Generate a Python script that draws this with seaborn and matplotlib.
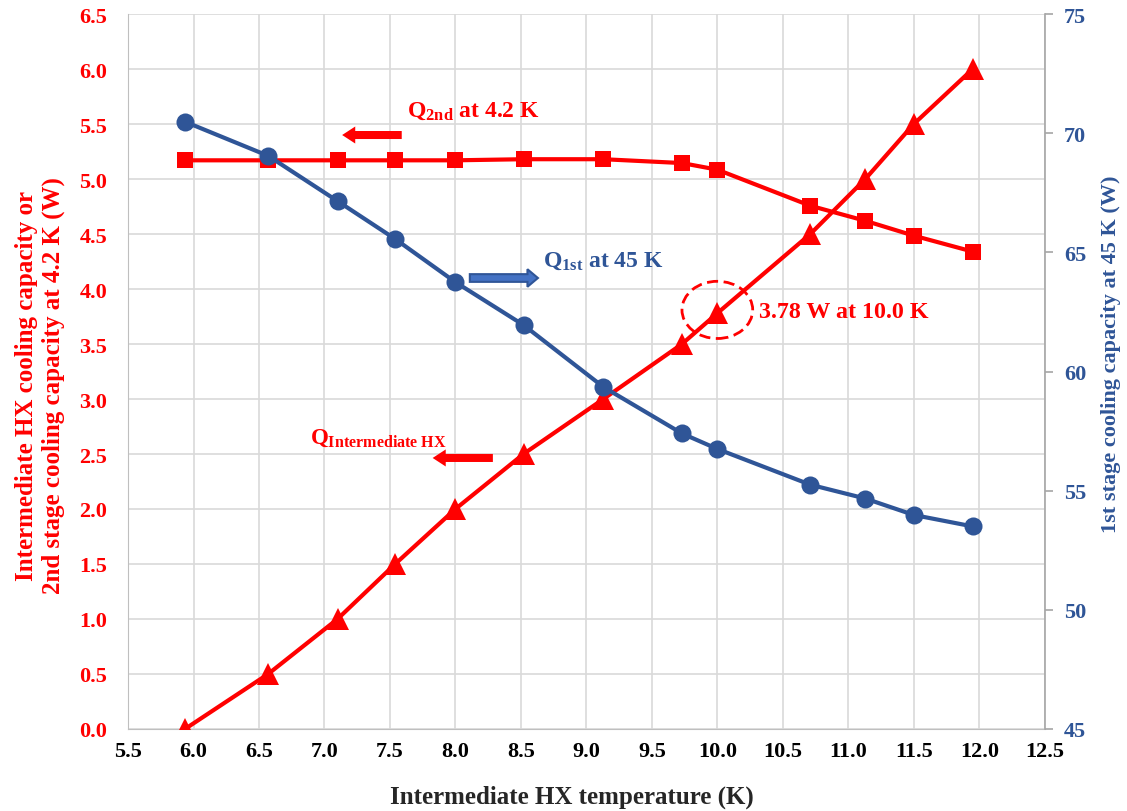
import matplotlib
matplotlib.use("Agg")
import matplotlib.pyplot as plt
import seaborn as sns
import pandas as pd
from matplotlib.patches import Ellipse, FancyArrow

# ---- data ----
temps = [5.935, 6.57, 7.10, 7.54, 8.0, 8.52, 9.13, 9.73, 10.0, 10.71, 11.13, 11.5, 11.95]
q_intermediate = [0.0, 0.5, 1.0, 1.5, 2.0, 2.5, 3.0, 3.5, 3.78, 4.5, 5.0, 5.5, 6.0]
q_2nd = [5.17, 5.17, 5.17, 5.17, 5.17, 5.18, 5.18, 5.145, 5.085, 4.757, 4.62, 4.485, 4.34]
q_1st = [70.48, 69.05, 67.15, 65.56, 63.75, 61.95, 59.35, 57.40, 56.75, 55.25, 54.67, 53.98, 53.5]

x_ticks = [5.5, 6.0, 6.5, 7.0, 7.5, 8.0, 8.5, 9.0, 9.5, 10.0, 10.5, 11.0, 11.5, 12.0, 12.5]
left_ticks = [0.0, 0.5, 1.0, 1.5, 2.0, 2.5, 3.0, 3.5, 4.0, 4.5, 5.0, 5.5, 6.0, 6.5]
right_ticks = [45, 50, 55, 60, 65, 70, 75]

df = pd.DataFrame({"T": temps, "qi": q_intermediate, "q2": q_2nd, "q1": q_1st})

sns.set_style("white")
plt.rcParams["font.family"] = ["Liberation Serif", "DejaVu Serif"]
plt.rcParams["mathtext.fontset"] = "custom"
plt.rcParams["mathtext.rm"] = "Liberation Serif"
plt.rcParams["mathtext.bf"] = "Liberation Serif:bold"
plt.rcParams["mathtext.it"] = "Liberation Serif:italic"

RED = "#FF0000"
BLUE = "#2F5597"
GRID = "#D9D9D9"

fig = plt.figure(figsize=(11.27, 8.12), dpi=100)
ax = fig.add_axes([0.1136, 0.101, 0.8134, 0.8805])
ax2 = ax.twinx()

sns.lineplot(data=df, x="T", y="qi", ax=ax, color=RED, lw=3, marker="^",
             markersize=16, markeredgewidth=0, zorder=3)
sns.lineplot(data=df, x="T", y="q2", ax=ax, color=RED, lw=3, marker="s",
             markersize=12, markeredgewidth=0, zorder=3)
sns.lineplot(data=df, x="T", y="q1", ax=ax2, color=BLUE, lw=3, marker="o",
             markersize=13, markeredgewidth=0, zorder=3)

ax.set_xlim(5.5, 12.5)
ax.set_ylim(0, 6.5)
ax2.set_ylim(45, 75)
ax.set_xticks(x_ticks)
ax.set_xticklabels([f"{v:.1f}" for v in x_ticks])
ax.set_yticks(left_ticks)
ax.set_yticklabels([f"{v:.1f}" for v in left_ticks])
ax2.set_yticks(right_ticks)
ax2.set_yticklabels([str(v) for v in right_ticks])

ax.grid(True, color=GRID, lw=1.2, zorder=0)
ax.set_axisbelow(True)
ax2.grid(False)

for a in (ax, ax2):
    for s in a.spines.values():
        s.set_visible(False)
ax.spines["left"].set_visible(True)
ax.spines["left"].set_color("#BFBFBF")
ax.spines["bottom"].set_visible(True)
ax.spines["bottom"].set_color("#BFBFBF")
ax2.spines["right"].set_visible(True)
ax2.spines["right"].set_color("#A6A6A6")
ax2.spines["right"].set_linewidth(1.2)

ax.tick_params(axis="x", length=0, pad=9, labelsize=16, labelcolor="black")
ax.tick_params(axis="y", length=0, pad=15, labelsize=16, labelcolor=RED)
ax2.tick_params(axis="y", length=6, width=1.2, color="#A6A6A6", pad=8,
                labelsize=16, labelcolor=BLUE)
for lab in ax.get_xticklabels() + ax.get_yticklabels() + ax2.get_yticklabels():
    lab.set_fontweight("bold")

ax.set_xlabel("")
ax.set_ylabel("")
ax2.set_ylabel("")
fig.text(0.507, 0.0185, "Intermediate HX temperature (K)", fontsize=18,
         fontweight="bold", ha="center", va="center")
fig.text(0.0355, 0.525,
         "Intermediate HX cooling capacity or\n2nd stage cooling capacity at 4.2 K (W)",
         fontsize=18, fontweight="bold", color=RED, rotation=90, ha="center",
         va="center", multialignment="center", linespacing=1.15)
fig.text(0.986, 0.564, "1st stage cooling capacity at 45 K (W)", fontsize=16,
         fontweight="bold", color=BLUE, rotation=90, ha="center", va="center")

# annotations
ax.text(7.63, 5.63, r"$\mathbf{Q}_{\mathbf{2nd}}$ at 4.2 K", color=RED, fontsize=17,
        fontweight="bold", va="center", ha="left")
ax.add_patch(FancyArrow(7.59, 5.40, -0.455, 0, width=0.073, head_width=0.155,
                        head_length=0.1, length_includes_head=True,
                        color=RED, lw=0, zorder=4))

ax.text(6.89, 2.65, r"$\mathbf{Q}_{\mathbf{Intermediate\ HX}}$", color=RED,
        fontsize=16.5, fontweight="bold", va="center", ha="left")
ax.add_patch(FancyArrow(8.286, 2.464, -0.46, 0, width=0.073, head_width=0.155,
                        head_length=0.1, length_includes_head=True,
                        color=RED, lw=0, zorder=4))

ax.text(8.67, 4.26, r"$\mathbf{Q}_{\mathbf{1st}}$ at 45 K", color=BLUE, fontsize=17,
        fontweight="bold", va="center", ha="left")
ax.add_patch(FancyArrow(8.11, 4.10, 0.52, 0, width=0.07, head_width=0.16,
                        head_length=0.08, length_includes_head=True,
                        facecolor="#4472C4", edgecolor=BLUE, lw=1.5, zorder=4))

ax.text(10.32, 3.80, "3.78 W at 10.0 K", color=RED, fontsize=17.3,
        fontweight="bold", va="center", ha="left")
ax.add_patch(Ellipse((10.0, 3.81), 0.54, 0.52, fill=False, edgecolor=RED,
                     lw=2, ls=(0, (4, 2)), zorder=5))

fig.savefig("out.png", dpi=100)
